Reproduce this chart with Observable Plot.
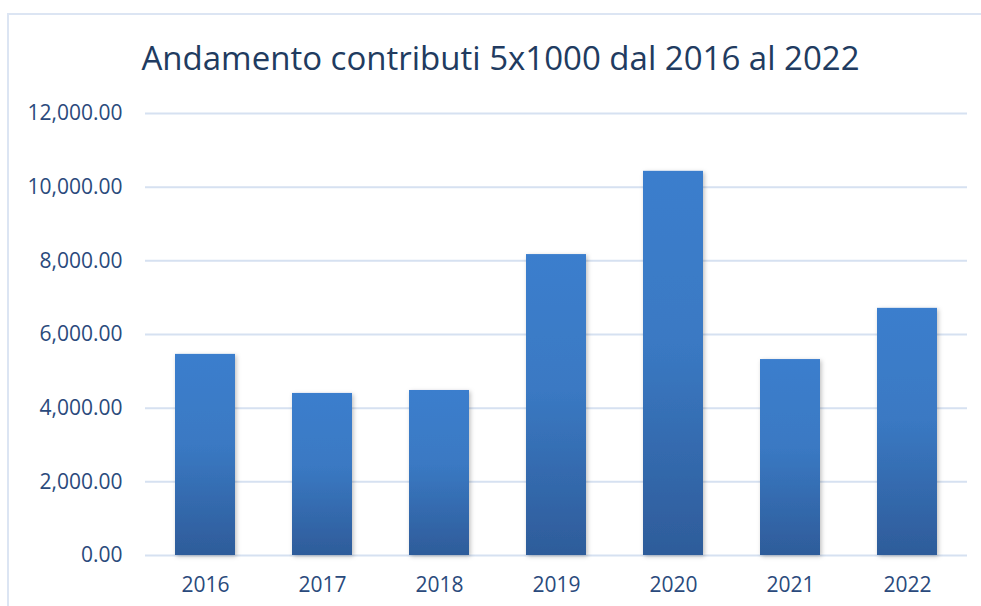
<!DOCTYPE html>
<html>
<head>
<meta charset="utf-8">
<script src="https://cdn.jsdelivr.net/npm/d3@7"></script>
<script src="https://cdn.jsdelivr.net/npm/@observablehq/plot@0.6"></script>
<style>
  html, body { margin: 0; padding: 0; background: #fff; width: 981px; height: 606px; overflow: hidden; }
  #frame { position: absolute; left: 7px; top: 13px; width: 1100px; height: 700px; border: 2px solid #dce5f3; box-sizing: border-box; }
  #title { position: absolute; left: 0; top: 0; width: 1001px; height: 90px; text-align: center; font-family: "Open Sans", sans-serif; font-size: 33px; color: #213b60; line-height: 1; }
  #title span { position: absolute; left: 0; right: 0; top: 41px; }
  #chart { position: absolute; left: 0; top: 90px; }
</style>
</head>
<body>
<div id="frame"></div>
<div id="title"><span>Andamento contributi 5x1000 dal 2016 al 2022</span></div>
<div id="chart"></div>
<script>
const years = ["2016", "2017", "2018", "2019", "2020", "2021", "2022"];
const values = [5460, 4400, 4480, 8170, 10430, 5320, 6710];
const yTicks = [0, 2000, 4000, 6000, 8000, 10000, 12000];

const data = years.map((y, i) => ({year: y, value: values[i]}));
const fmt = d3.format(",.2f");

const plot = Plot.plot({
  width: 981,
  height: 516,
  marginTop: 23,
  marginBottom: 51,
  marginLeft: 145,
  marginRight: 14,
  style: { fontFamily: "Open Sans, sans-serif", fontSize: "21px", color: "#2a4a7c", background: "transparent" },
  x: { domain: years, paddingInner: 0.49, paddingOuter: 0.245, label: null },
  y: { domain: [0, 12000], label: null },
  marks: [
    Plot.ruleY(yTicks, { stroke: "#d6e1f1", strokeWidth: 2 }),
    Plot.barY(data, { x: "year", y: "value", fill: "url(#barGrad)" }),
    Plot.axisX({ tickSize: 0, tickPadding: 22, fill: "#2a4a7c", fontSize: 21 }),
    Plot.axisY({ ticks: yTicks, tickFormat: fmt, tickSize: 0, tickPadding: 23, fill: "#2a4a7c", fontSize: 21 })
  ]
});

const svg = d3.select(plot);
const defs = svg.insert("defs", ":first-child");
const g = defs.append("linearGradient").attr("id", "barGrad").attr("x1", 0).attr("y1", 0).attr("x2", 0).attr("y2", 1);
g.append("stop").attr("offset", "0%").attr("stop-color", "#3b7ecd");
g.append("stop").attr("offset", "45%").attr("stop-color", "#3a79c3");
g.append("stop").attr("offset", "100%").attr("stop-color", "#2e5c9a");
const f = defs.append("filter").attr("id", "shadow").attr("x", "-20%").attr("y", "-20%").attr("width", "140%").attr("height", "140%");
f.append("feDropShadow").attr("dx", 1.5).attr("dy", 1.5).attr("stdDeviation", 2).attr("flood-color", "#000").attr("flood-opacity", 0.25);
svg.selectAll("g[aria-label='bar'] rect").attr("filter", "url(#shadow)");

document.getElementById("chart").appendChild(plot);
</script>
</body>
</html>
